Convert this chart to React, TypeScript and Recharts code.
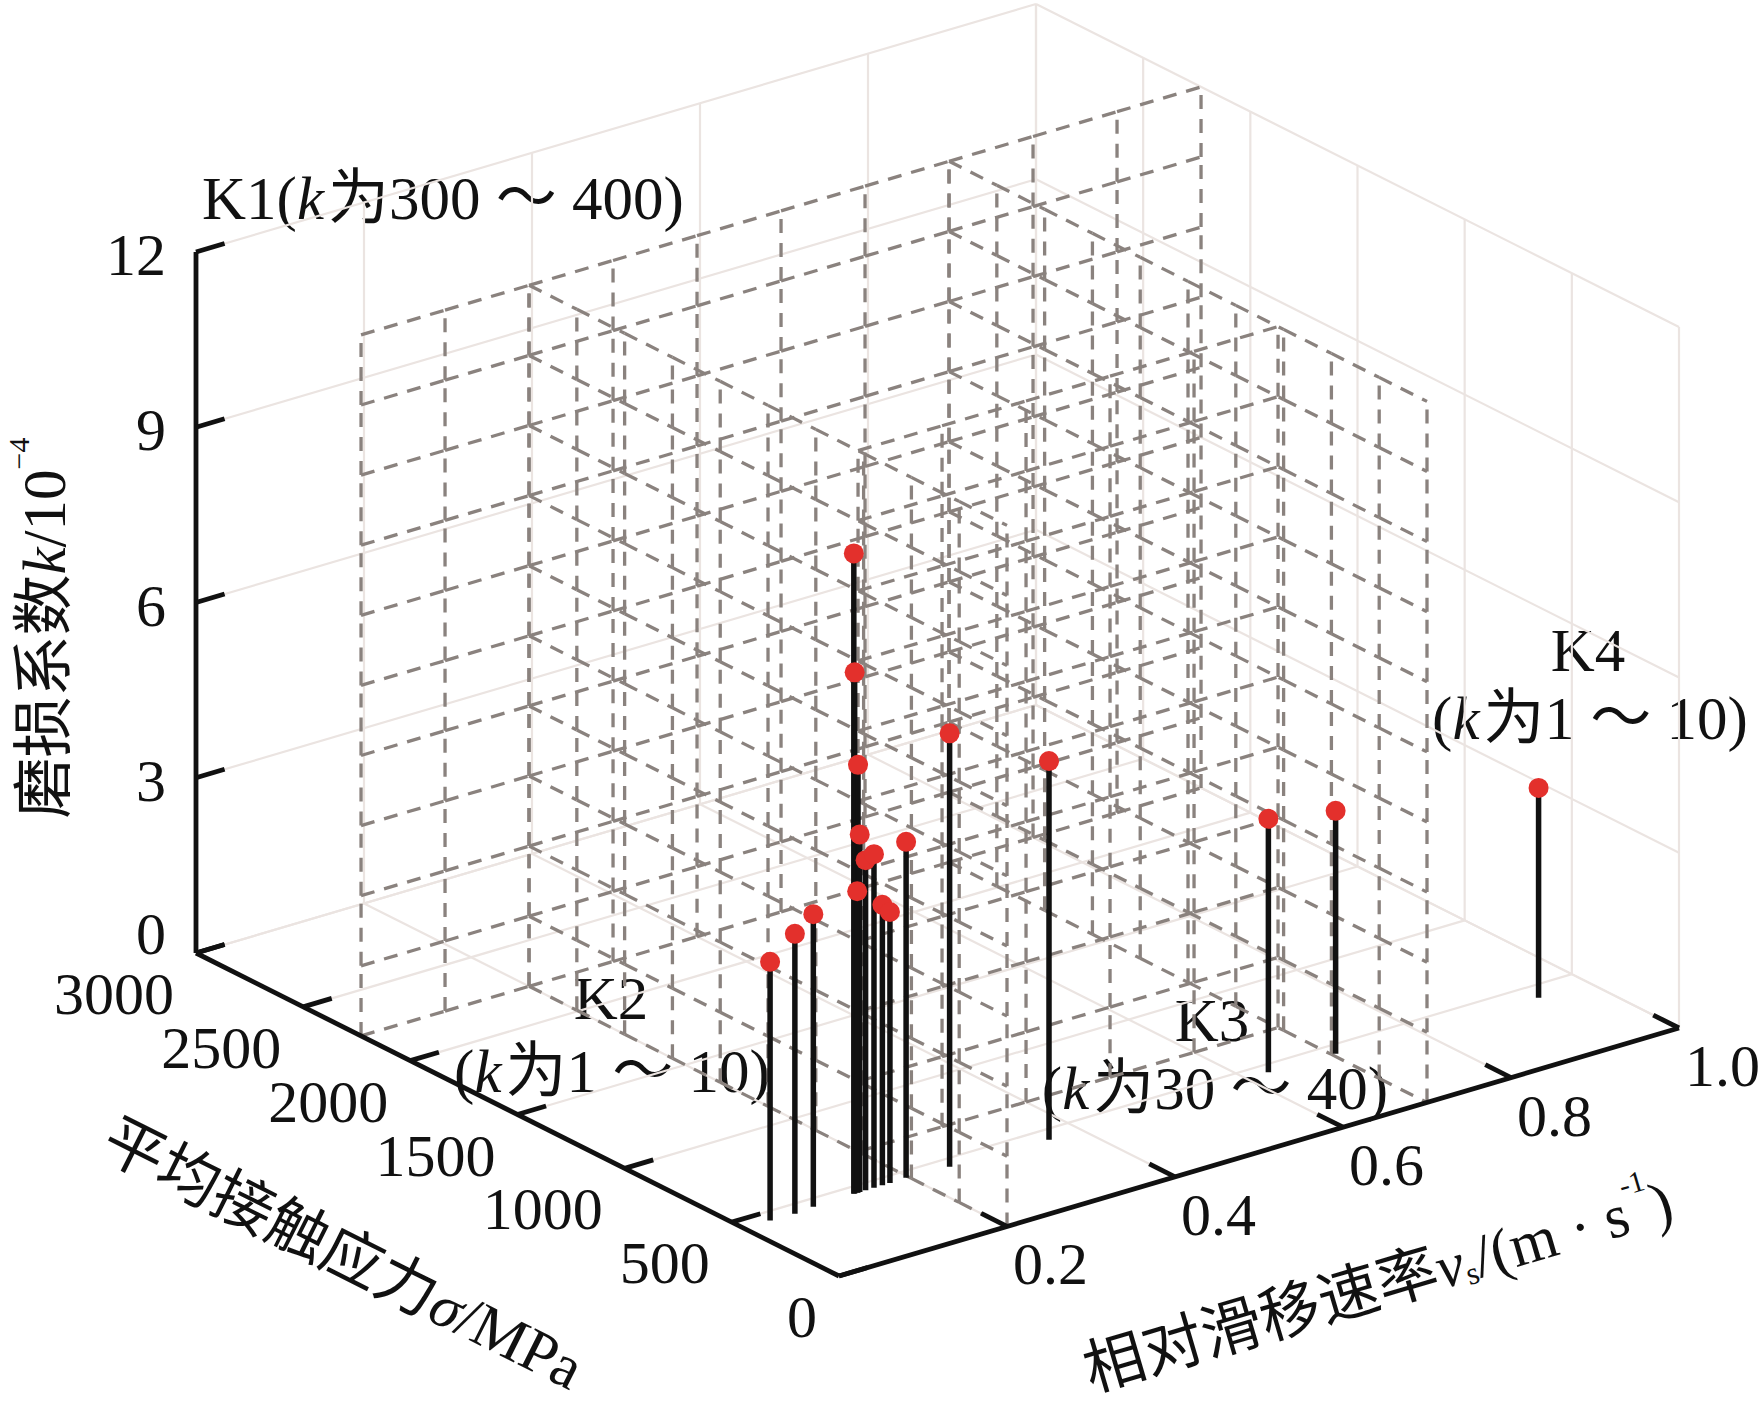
import React from "react";
import { ScatterChart, Scatter, XAxis, YAxis, ReferenceLine, Customized } from "recharts";

const W = 1761;
const H = 1408;

// measured points: contact stress σ (MPa), sliding rate v (m/s), wear coefficient k (10^-4)
const stress = [443, 441, 449, 456, 456, 456, 456, 456, 456, 456, 456, 456, 459, 448, 435, 450, 442, 420];
const slip = [0.031, 0.06, 0.084, 0.134, 0.135, 0.139, 0.141, 0.148, 0.158, 0.138, 0.168, 0.177, 0.197, 0.246, 0.361, 0.626, 0.704, 0.94];
const wear = [4.43, 4.79, 5.01, 10.96, 8.92, 7.32, 6.12, 5.65, 5.71, 5.16, 4.8, 4.64, 5.75, 7.42, 6.48, 4.34, 4.16, 3.59];

const stressTicks = [0, 500, 1000, 1500, 2000, 2500, 3000];
const slipTicks = [0.2, 0.4, 0.6, 0.8, 1.0];
const wearTicks = [0, 3, 6, 9, 12];

// wear-map region boundaries (dashed prisms)
const regionStress = [695, 2230];
const regionSlip = [0.2, 0.7];
const regionTop = 12;
const meshRows = 10;

// 3D view: where one unit of each axis lands on the page
const ORIGIN = { x: 839, y: 1276 };
const S_DIR = { x: -643 / 3000, y: -323 / 3000 };
const V_DIR = { x: 840, y: -248 };
const K_DIR = { y: -701 / 12 };

type Pt = { x: number; y: number };
type Seg = { a: Pt; b: Pt };

const proj = (s: number, v: number, k: number): Pt => ({
  x: ORIGIN.x + s * S_DIR.x + v * V_DIR.x,
  y: ORIGIN.y + s * S_DIR.y + v * V_DIR.y + k * K_DIR.y,
});

const steps = (a: number, b: number, n: number) => Array.from({ length: n + 1 }, (_, i) => a + ((b - a) * i) / n);

// orient a segment so the dash pattern starts at the bottom / left vertex
const seg = (p: Pt, q: Pt): Seg => {
  if (Math.abs(p.x - q.x) < 0.5) return p.y > q.y ? { a: p, b: q } : { a: q, b: p };
  return p.x < q.x ? { a: p, b: q } : { a: q, b: p };
};

function faceMesh(pt: (a: number, k: number) => Pt, as: number[], ks: number[]): Seg[] {
  const out: Seg[] = [];
  as.forEach((a) => {
    for (let j = 0; j < ks.length - 1; j++) out.push(seg(pt(a, ks[j]), pt(a, ks[j + 1])));
  });
  ks.forEach((k) => {
    for (let i = 0; i < as.length - 1; i++) out.push(seg(pt(as[i], k), pt(as[i + 1], k)));
  });
  return out;
}

const meshK = steps(0, regionTop, meshRows);
const [sLow, sHigh] = regionStress;
const [vLow, vHigh] = regionSlip;

const dashed: Seg[] = [
  ...faceMesh((v, k) => proj(sHigh, v, k), steps(0, 1, 10), meshK),
  ...faceMesh((s, k) => proj(s, vLow, k), steps(sHigh, 0, 10), meshK),
  ...faceMesh((s, k) => proj(s, vHigh, k), steps(sHigh, 0, 10), meshK),
  ...faceMesh((v, k) => proj(sLow, v, k), steps(vLow, vHigh, 5), meshK),
];

const vGrid = [0, ...slipTicks];
const walls: Seg[] = [
  ...stressTicks.map((s) => seg(proj(s, 0, 0), proj(s, 1, 0))),
  ...vGrid.map((v) => seg(proj(0, v, 0), proj(3000, v, 0))),
  ...vGrid.map((v) => seg(proj(3000, v, 0), proj(3000, v, 12))),
  ...wearTicks.map((k) => seg(proj(3000, 0, k), proj(3000, 1, k))),
  ...stressTicks.map((s) => seg(proj(s, 1, 0), proj(s, 1, 12))),
  ...wearTicks.map((k) => seg(proj(0, 1, k), proj(3000, 1, k))),
];

const axes: Seg[] = [
  seg(proj(3000, 0, 0), proj(3000, 0, 12)),
  seg(proj(3000, 0, 0), proj(0, 0, 0)),
  seg(proj(0, 0, 0), proj(0, 1, 0)),
  ...wearTicks.map((k) => seg(proj(3000, 0, k), proj(3000, 0.034, k))),
  ...stressTicks.map((s) => seg(proj(s, 0, 0), proj(s, 0.034, 0))),
  ...slipTicks.map((v) => seg(proj(0, v, 0), proj(120, v, 0))),
];

const stems: Seg[] = stress.map((s, i) => ({ a: proj(s, slip[i], 0), b: proj(s, slip[i], wear[i]) }));
const dots = stress.map((s, i) => proj(s, slip[i], wear[i]));

const FONT = "'Liberation Serif', 'Noto Sans CJK SC', serif";

function RegionText({ x, y, range }: { x: number; y: number; range: string }) {
  return (
    <text x={x} y={y} textAnchor="middle" dominantBaseline="central">
      (<tspan fontStyle="italic">k</tspan>
      <tspan dx={4}>为{range}</tspan>)
    </text>
  );
}

function RegionLabels() {
  return (
    <>
      <text x={202} y={198} textAnchor="start" dominantBaseline="central">
        K1(<tspan fontStyle="italic">k</tspan>
        <tspan dx={4}>为300 ～ 400</tspan>)
      </text>
      <text x={611} y={998} textAnchor="middle" dominantBaseline="central">K2</text>
      <RegionText x={612} y={1071} range="1 ～ 10" />
      <text x={1212} y={1020} textAnchor="middle" dominantBaseline="central">K3</text>
      <RegionText x={1215} y={1088} range="30 ～ 40" />
      <text x={1588} y={650} textAnchor="middle" dominantBaseline="central">K4</text>
      <RegionText x={1590} y={718} range="1 ～ 10" />
    </>
  );
}

function Annotations() {
  return (
    <g fontFamily={FONT} fill="#111">
      {wearTicks.map((k) => {
        const p = proj(3000, 0, k);
        return (
          <text key={`k${k}`} x={p.x - 30} y={p.y + (k === 0 ? -19 : 3)} textAnchor="end" dominantBaseline="central" fontSize={60}>
            {k}
          </text>
        );
      })}
      {stressTicks.map((s) => {
        const p = proj(s, 0, 0);
        return (
          <text key={`s${s}`} x={p.x - 22} y={p.y + 41} textAnchor="end" dominantBaseline="central" fontSize={60}>
            {s}
          </text>
        );
      })}
      {slipTicks.map((v) => {
        const p = proj(0, v, 0);
        return (
          <text key={`v${v}`} x={p.x + 6} y={p.y + 38} textAnchor="start" dominantBaseline="central" fontSize={60}>
            {v.toFixed(1)}
          </text>
        );
      })}

      <text transform="translate(44, 628) rotate(-90)" textAnchor="middle" dominantBaseline="central" fontSize={61}>
        磨损系数<tspan fontStyle="italic">k</tspan>/10
        <tspan fontSize={30} dy={-26}>−4</tspan>
      </text>
      <text transform="translate(343, 1254) rotate(26.6)" textAnchor="middle" dominantBaseline="central" fontSize={61}>
        平均接触应力<tspan fontStyle="italic">σ</tspan>/MPa
      </text>
      <text transform="translate(1378, 1286) rotate(-16.4)" textAnchor="middle" dominantBaseline="central" fontSize={61}>
        相对滑移速率<tspan fontStyle="italic">v</tspan>
        <tspan fontSize={32} dy={14}>s</tspan>
        <tspan dy={-14}>/(m · s</tspan>
        <tspan fontSize={30} dy={-28}>-1</tspan>
        <tspan dy={28}>)</tspan>
      </text>

      {/* white halo under the region labels, then the labels themselves */}
      <g fontSize={61} fill="#fff" stroke="#fff" strokeWidth={8} strokeLinejoin="round">
        <RegionLabels />
      </g>
      <g fontSize={61}>
        <RegionLabels />
      </g>
    </g>
  );
}

export default function App() {
  return (
    <div style={{ position: "absolute", left: 0, top: 0, width: W, height: H, background: "#fff" }}>
      <ScatterChart width={W} height={H} margin={{ top: 0, right: 0, bottom: 0, left: 0 }}>
        <XAxis type="number" dataKey="x" domain={[0, W]} hide />
        <YAxis type="number" dataKey="y" domain={[0, H]} reversed hide />
        {walls.map((l, i) => (
          <ReferenceLine key={`w${i}`} segment={[l.a, l.b]} stroke="#ebe4e1" strokeWidth={2.2} />
        ))}
        {dashed.map((l, i) => (
          <ReferenceLine key={`d${i}`} segment={[l.a, l.b]} stroke="#8a827e" strokeWidth={3.3} strokeDasharray="14 10" />
        ))}
        {axes.map((l, i) => (
          <ReferenceLine key={`a${i}`} segment={[l.a, l.b]} stroke="#111" strokeWidth={4.8} />
        ))}
        {stems.map((l, i) => (
          <ReferenceLine key={`t${i}`} segment={[l.a, l.b]} stroke="#111" strokeWidth={5.5} />
        ))}
        <Scatter
          data={dots}
          isAnimationActive={false}
          shape={(p: any) => <circle cx={p.cx} cy={p.cy} r={10} fill="#e3302c" />}
        />
        <Customized component={Annotations} />
      </ScatterChart>
    </div>
  );
}
